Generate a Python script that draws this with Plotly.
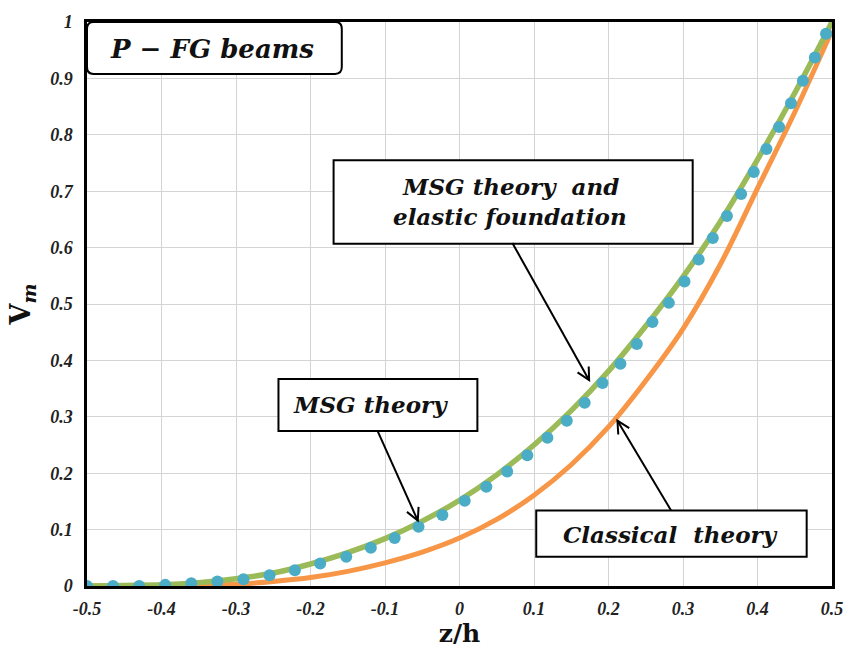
import math
import plotly.graph_objects as go

# ---- data ----
z_curve = [-0.50, -0.45, -0.40, -0.35, -0.30, -0.25, -0.20, -0.15, -0.10, -0.05,
           0.00, 0.05, 0.10, 0.15, 0.20, 0.25, 0.30, 0.35, 0.40, 0.45, 0.50]
v_msg_foundation = [0.000, 0.001, 0.002, 0.006, 0.013, 0.023, 0.039, 0.059, 0.084, 0.115,
                    0.152, 0.197, 0.250, 0.311, 0.381, 0.461, 0.548, 0.646, 0.756, 0.874, 1.000]
v_classical = [0.000, 0.000, 0.000, 0.001, 0.003, 0.008, 0.015, 0.026, 0.041, 0.060,
               0.085, 0.118, 0.161, 0.215, 0.282, 0.364, 0.456, 0.570, 0.705, 0.840, 0.985]

z_msg = [-0.500, -0.465, -0.430, -0.395, -0.360, -0.325, -0.290, -0.255, -0.221, -0.187,
         -0.152, -0.119, -0.087, -0.055, -0.023, 0.007, 0.036, 0.064, 0.091, 0.118,
         0.144, 0.168, 0.192, 0.216, 0.238, 0.259, 0.281, 0.302, 0.321, 0.340,
         0.359, 0.378, 0.395, 0.412, 0.429, 0.445, 0.461, 0.477, 0.492]
v_msg = [0.000, 0.000, 0.000, 0.002, 0.005, 0.008, 0.012, 0.019, 0.028, 0.040,
         0.052, 0.068, 0.085, 0.105, 0.126, 0.151, 0.176, 0.203, 0.232, 0.263,
         0.293, 0.325, 0.360, 0.394, 0.429, 0.468, 0.502, 0.540, 0.579, 0.617,
         0.656, 0.695, 0.734, 0.775, 0.814, 0.856, 0.896, 0.937, 0.979]

x_tickvals = [-0.5, -0.4, -0.3, -0.2, -0.1, 0, 0.1, 0.2, 0.3, 0.4, 0.5]
x_ticktext = ["-0.5", "-0.4", "-0.3", "-0.2", "-0.1", "0", "0.1", "0.2", "0.3", "0.4", "0.5"]
y_tickvals = [0, 0.1, 0.2, 0.3, 0.4, 0.5, 0.6, 0.7, 0.8, 0.9, 1]
y_ticktext = ["0", "0.1", "0.2", "0.3", "0.4", "0.5", "0.6", "0.7", "0.8", "0.9", "1"]

# ---- layout geometry ----
W, H = 858, 653
ML, MR, MT, MB = 87, 26, 17, 61
XR = [-0.5, 0.5]
YR = [0.0, 1.0]
px_per_x = (W - ML - MR) / (XR[1] - XR[0])
px_per_y = (H - MT - MB) / (YR[1] - YR[0])

# ---- label boxes (data coordinates) ----
boxes = {
    "pfg": dict(x0=-0.5, x1=-0.158, y0=0.908, y1=1.0),
    "found": dict(x0=-0.169, x1=0.313, y0=0.607, y1=0.755),
    "msg": dict(x0=-0.243, x1=0.024, y0=0.275, y1=0.367),
    "classic": dict(x0=0.103, x1=0.466, y0=0.052, y1=0.134),
}
labels = [
    ("P − FG beams", -0.332, 0.952, 26),
    ("MSG theory  and", 0.068, 0.708, 23),
    ("elastic foundation", 0.068, 0.655, 23),
    ("MSG theory", -0.120, 0.321, 23),
    ("Classical  theory", 0.283, 0.091, 23),
]
arrows = [  # tip (x, y), tail (ax, ay)
    (0.174, 0.365, 0.071, 0.608),
    (-0.056, 0.116, -0.110, 0.275),
    (0.212, 0.293, 0.284, 0.134),
]

GREEN = "#9BBB59"
ORANGE = "#F79646"
BLUE = "#4BACC6"

fig = go.Figure()
fig.add_trace(go.Scatter(x=z_curve, y=v_classical, mode="lines", name="Classical theory",
                         line=dict(color=ORANGE, width=5, shape="spline"), showlegend=False))
fig.add_trace(go.Scatter(x=z_curve, y=v_msg_foundation, mode="lines",
                         name="MSG theory and elastic foundation",
                         line=dict(color=GREEN, width=5.5, shape="spline"), showlegend=False))
fig.add_trace(go.Scatter(x=z_msg, y=v_msg, mode="markers", name="MSG theory",
                         marker=dict(color=BLUE, size=12), showlegend=False))

shapes = []
for key, b in boxes.items():
    if key == "pfg":
        rx, ry = 0.009, 0.012
        x0, x1, y0, y1 = b["x0"], b["x1"], b["y0"], b["y1"]
        path = (f"M {x0+rx},{y0} L {x1-rx},{y0} Q {x1},{y0} {x1},{y0+ry} "
                f"L {x1},{y1-ry} Q {x1},{y1} {x1-rx},{y1} L {x0+rx},{y1} "
                f"Q {x0},{y1} {x0},{y1-ry} L {x0},{y0+ry} Q {x0},{y0} {x0+rx},{y0} Z")
        shapes.append(dict(type="path", path=path, xref="x", yref="y",
                           line=dict(color="black", width=2), fillcolor="white", layer="above"))
    else:
        shapes.append(dict(type="rect", xref="x", yref="y", x0=b["x0"], x1=b["x1"],
                           y0=b["y0"], y1=b["y1"], line=dict(color="black", width=2),
                           fillcolor="white", layer="above"))

# arrows: line + open chevron head, computed in pixel space
HEAD_LEN = 14
HEAD_ANG = math.radians(27)
for (x, y, ax, ay) in arrows:
    shapes.append(dict(type="line", xref="x", yref="y", x0=ax, y0=ay, x1=x, y1=y,
                       line=dict(color="black", width=2), layer="above"))
    dxp = (ax - x) * px_per_x
    dyp = (ay - y) * px_per_y
    ang = math.atan2(dyp, dxp)
    pts = []
    for s in (1, -1):
        a = ang + s * HEAD_ANG
        pts.append((x + HEAD_LEN * math.cos(a) / px_per_x, y + HEAD_LEN * math.sin(a) / px_per_y))
    path = f"M {pts[0][0]},{pts[0][1]} L {x},{y} L {pts[1][0]},{pts[1][1]}"
    shapes.append(dict(type="path", path=path, xref="x", yref="y",
                       line=dict(color="black", width=2), layer="above"))

annotations = []
for (txt, x, y, size) in labels:
    annotations.append(dict(x=x, y=y, xref="x", yref="y", text=txt, showarrow=False,
                            xanchor="center", yanchor="middle", align="center",
                            font=dict(family="DejaVu Serif", size=size, color="#111111",
                                      weight="bold", style="italic")))

tickfont = dict(family="Liberation Serif", size=18, color="#222222", weight="bold", style="italic")

fig.update_layout(
    width=W, height=H,
    margin=dict(l=ML, r=MR, t=MT, b=MB),
    paper_bgcolor="white", plot_bgcolor="white",
    shapes=shapes, annotations=annotations,
    xaxis=dict(range=XR, tickvals=x_tickvals, ticktext=x_ticktext,
               tickfont=tickfont, showgrid=True, gridcolor="#d4d4d4", gridwidth=1,
               zeroline=False, showline=True, linecolor="black", linewidth=2.5, mirror=True,
               ticks="", ticklabelstandoff=5,
               title=dict(text="<b>z/h</b>", standoff=4,
                          font=dict(family="DejaVu Serif", size=25, color="#111111"))),
    yaxis=dict(range=YR, tickvals=y_tickvals, ticktext=y_ticktext,
               tickfont=tickfont, showgrid=True, gridcolor="#d4d4d4", gridwidth=1,
               zeroline=False, showline=True, linecolor="black", linewidth=2.5, mirror=True,
               ticks="", ticklabelstandoff=8,
               title=dict(text="<b>V<sub><i>m</i></sub></b>", standoff=12,
                          font=dict(family="DejaVu Serif", size=27, color="#111111"))),
)

fig.write_html("out.html")
